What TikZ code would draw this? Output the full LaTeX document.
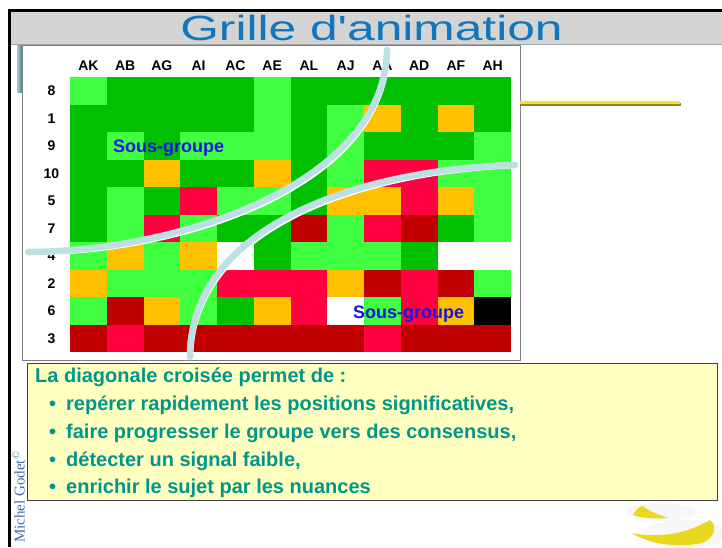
\documentclass[tikz,border=0pt]{standalone}
\usepackage{fontspec}
\usepackage{graphicx}
\setmainfont{Liberation Sans}
\newfontfamily\titlefont[FakeStretch=1.42]{Liberation Sans}
\newfontfamily\signfont{Liberation Serif}
\definecolor{cG}{RGB}{0,192,0}
\definecolor{cL}{RGB}{64,255,64}
\definecolor{cO}{RGB}{255,192,0}
\definecolor{cR}{RGB}{255,0,64}
\definecolor{cD}{RGB}{192,0,0}
\definecolor{cW}{RGB}{255,255,255}
\definecolor{cK}{RGB}{0,0,0}
\definecolor{titleblue}{RGB}{18,118,186}
\definecolor{bandgray}{RGB}{212,212,212}
\definecolor{curveblue}{RGB}{188,224,228}
\definecolor{sgblue}{RGB}{20,20,230}
\definecolor{textteal}{RGB}{0,150,140}
\definecolor{boxyellow}{RGB}{255,255,192}
\definecolor{signblue}{RGB}{60,112,168}
\definecolor{lineyellow}{RGB}{250,224,40}
\definecolor{lineshadow}{RGB}{150,130,30}
\definecolor{swoosh}{RGB}{234,216,30}
\definecolor{stripA}{RGB}{170,205,220}
\definecolor{stripB}{RGB}{60,120,140}
\begin{document}
\begin{tikzpicture}[x=1pt,y=-1pt,
  hdr/.style={anchor=base,inner sep=0pt,font=\bfseries\fontsize{14}{14}\selectfont},
  sg/.style={anchor=base west,inner sep=0pt,text=sgblue,font=\bfseries\fontsize{18}{18}\selectfont},
  boxtext/.style={anchor=base west,inner sep=0pt,text=textteal,font=\bfseries\fontsize{20}{20}\selectfont},
  curvewhite/.style={line width=6.5pt,white,line cap=round},
  curveline/.style={line width=6.5pt,curveblue,line cap=round}]
\useasboundingbox (0,0) rectangle (722,547);
\fill[white] (0,0) rectangle (722,547);
% title band and frame
\fill[bandgray] (11,11) rectangle (722,44.5);
\draw[gray!70,line width=0.8pt] (11,44.5) -- (722,44.5);
\draw[line width=2.6pt,black] (9.7,547) -- (9.7,10.3) -- (722,10.3);
\node[anchor=base,inner sep=0pt,text=titleblue,font=\titlefont\fontsize{35}{35}\selectfont] (title) at (371.5,40) {Grille d'animation};
% small picture strip
\shade[left color=stripA,right color=stripB] (17,45) rectangle (22.5,92);
% grid box
\node[draw=gray,fill=white,line width=1pt,minimum width=498pt,minimum height=315pt,anchor=north west,inner sep=0pt] (gridbox) at (22,45) {};
% yellow line
\fill[lineshadow] (521,102.5) rectangle (681,106.2);
\fill[lineyellow] (520,100.7) rectangle (679.5,104.4);
% cells
\foreach \rowcols [count=\j from 0] in {
 {L,G,G,G,G,L,G,G,G,G,G,G},
 {G,G,G,G,G,L,G,L,O,G,O,G},
 {G,L,G,L,L,L,G,L,G,G,G,L},
 {G,G,O,G,G,O,G,L,R,R,L,L},
 {G,L,G,R,L,L,G,O,O,R,O,L},
 {G,L,R,L,G,G,D,L,R,D,G,L},
 {L,O,L,O,W,G,L,L,L,G,W,W},
 {O,L,L,L,R,R,R,O,D,R,D,L},
 {L,D,O,L,G,O,R,W,L,R,O,K},
 {D,R,D,D,D,D,D,D,R,D,D,D}}{
  \foreach \c [count=\i from 0] in \rowcols {
    \fill[c\c] ({70+\i*36.75},{77+\j*27.5}) rectangle ({70+(\i+1)*36.75+0.3},{77+(\j+1)*27.5+0.3});
  }
}
% headers
\foreach \h [count=\i from 0] in {AK,AB,AG,AI,AC,AE,AL,AJ,AA,AD,AF,AH}
  \node[hdr] (h\h) at ({70+(\i+0.5)*36.75},70.7) {\h};
\foreach \r [count=\j from 0] in {8,1,9,10,5,7,4,2,6,3}
  \node[hdr] (r\r) at (51.5,{77+(\j+0.5)*27.5+5}) {\r};
% curves
\coordinate (a1) at (387,50);
\coordinate (a2) at (28,252);
\coordinate (b1) at (515,165);
\coordinate (b2) at (190,357);
\begin{scope}[shift={(1.6,1.6)}]
\draw[curvewhite] (a1) .. controls (384,188) and (170,252) .. (a2);
\draw[curvewhite] (b1) .. controls (350,170) and (190,230) .. (b2);
\end{scope}
\draw[curveline] (a1) .. controls (384,188) and (170,252) .. (a2);
\draw[curveline] (b1) .. controls (350,170) and (190,230) .. (b2);
% sous-groupes
\node[sg] (sg1) at (113,152) {Sous-groupe};
\node[sg] (sg2) at (353,318) {Sous-groupe};
% text box
\node[draw=black!75,fill=boxyellow,line width=0.9pt,minimum width=690pt,minimum height=137pt,anchor=north west,inner sep=0pt] (box) at (27,363) {};
\node[boxtext] (t0) at (35,382) {La diagonale croisée permet de :};
\foreach \y/\t [count=\k] in {410/{repérer rapidement les positions significatives,},438/{faire progresser le groupe vers des consensus,},466/{détecter un signal faible,},493/{enrichir le sujet par les nuances}}{
  \node[boxtext] (b\k) at (49,\y) {•};
  \node[boxtext] (t\k) at (66,\y) {\t};
}
% signature
\node[rotate=90,anchor=base west,inner sep=0pt,text=signblue,font=\signfont\fontsize{15}{15}\selectfont] (sign) at (24.5,543) {Michel Godet\textsuperscript{©}};
% decoration bottom right
\fill[gray!6] (662,512) ellipse [x radius=36pt,y radius=9pt];
\fill[gray!6] (685,534) ellipse [x radius=42pt,y radius=14pt];
\fill[swoosh] (633,515) .. controls (636,509) and (640,506) .. (643,506) .. controls (650,512) and (660,515) .. (668,518) .. controls (655,519) and (642,518) .. cycle;
\fill[swoosh] (632,533) .. controls (655,538) and (685,535) .. (710,520) .. controls (717,526) and (716,537) .. (702,543) .. controls (680,548) and (650,545) .. cycle;
\end{tikzpicture}
\end{document}
